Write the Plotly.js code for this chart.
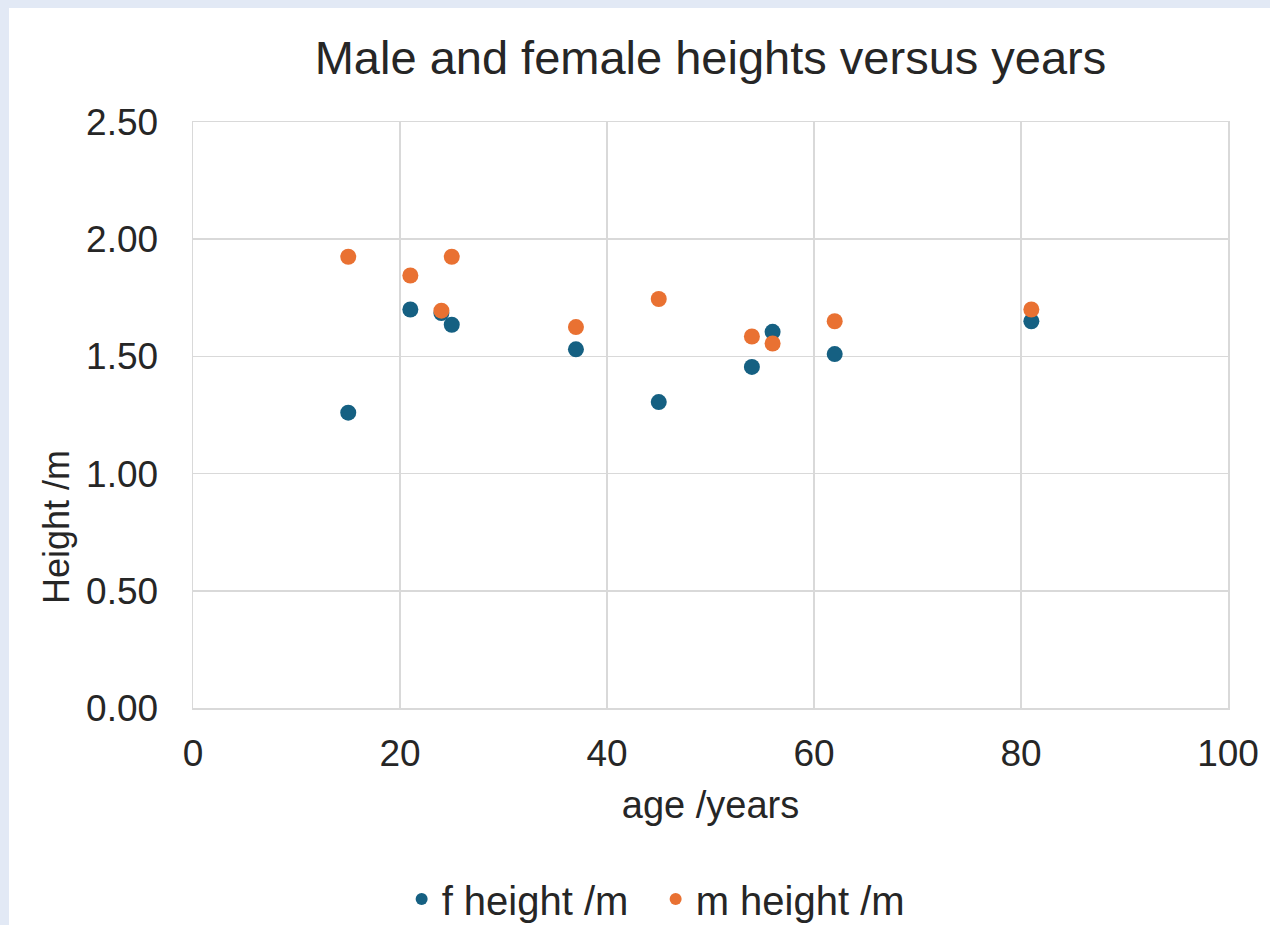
<!DOCTYPE html>
<html>
<head>
<meta charset="utf-8">
<script src="https://cdn.plot.ly/plotly-3.0.1.min.js"></script>
<style>
  html, body { margin: 0; padding: 0; background: #e2e9f5; overflow: hidden; }
  #chart { position: absolute; left: 9px; top: 8px; width: 1261px; height: 917px; background: #ffffff; }
</style>
</head>
<body>
<div id="chart"></div>
<script>
// Data
const ages = [15, 21, 24, 25, 37, 45, 54, 56, 62, 81];
const femaleHeights = [1.26, 1.70, 1.685, 1.635, 1.53, 1.305, 1.455, 1.605, 1.51, 1.65];
const maleHeights = [1.925, 1.845, 1.695, 1.925, 1.625, 1.745, 1.585, 1.555, 1.65, 1.70];
const seriesNames = ["f height /m", "m height /m"];
const chartTitle = "Male and female heights versus years";
const xTitle = "age /years";
const yTitle = "Height /m";

const fontFamily = "Liberation Sans, Arial, sans-serif";
const textColor = "#262626";
const gridColor = "#d9d9d9";
const H = 917;

const traces = [
  {
    x: ages, y: femaleHeights, name: seriesNames[0],
    type: "scatter", mode: "markers",
    marker: { color: "#156082", size: 16 }
  },
  {
    x: ages, y: maleHeights, name: seriesNames[1],
    type: "scatter", mode: "markers",
    marker: { color: "#e97132", size: 16 }
  }
];

const layout = {
  width: 1261, height: H,
  paper_bgcolor: "#ffffff", plot_bgcolor: "#ffffff",
  margin: { l: 184, r: 42, t: 114, b: 217 },
  font: { family: fontFamily, color: textColor, size: 37 },
  title: {
    text: chartTitle,
    font: { family: fontFamily, size: 47, color: textColor },
    x: 0.5, xref: "paper", xanchor: "center",
    y: 1 - 50 / H, yref: "container", yanchor: "middle"
  },
  xaxis: {
    range: [0, 100], dtick: 20, tick0: 0,
    showgrid: true, gridcolor: gridColor, gridwidth: 1.5,
    showline: true, linecolor: gridColor, linewidth: 1.5, mirror: true,
    zeroline: false, ticks: "", ticklabelstandoff: 12,
    tickfont: { family: fontFamily, size: 37, color: textColor },
    title: { text: xTitle, font: { family: fontFamily, size: 38, color: textColor }, standoff: 18 }
  },
  yaxis: {
    range: [0, 2.5], dtick: 0.5, tick0: 0, tickformat: ".2f",
    showgrid: true, gridcolor: gridColor, gridwidth: 1.5,
    showline: true, linecolor: gridColor, linewidth: 1.5, mirror: true,
    zeroline: false, ticks: "", ticklabelstandoff: 26,
    tickfont: { family: fontFamily, size: 37, color: textColor }
  },
  annotations: [
    {
      text: yTitle, textangle: -90, showarrow: false,
      xref: "paper", x: (47 - 184) / 1035, xanchor: "center",
      yref: "paper", y: (700 - 519) / 586, yanchor: "middle",
      font: { family: fontFamily, size: 36, color: textColor }
    }
  ],
  showlegend: true,
  legend: {
    orientation: "h",
    x: 0.447, xref: "paper", xanchor: "center",
    y: 26 / H, yref: "container", yanchor: "middle",
    font: { family: fontFamily, size: 40, color: textColor },
    itemsizing: "constant",
    entrywidth: 209, entrywidthmode: "pixels",
    bgcolor: "rgba(0,0,0,0)"
  }
};

Plotly.newPlot("chart", traces, layout, { displayModeBar: false, staticPlot: true });
</script>
</body>
</html>
